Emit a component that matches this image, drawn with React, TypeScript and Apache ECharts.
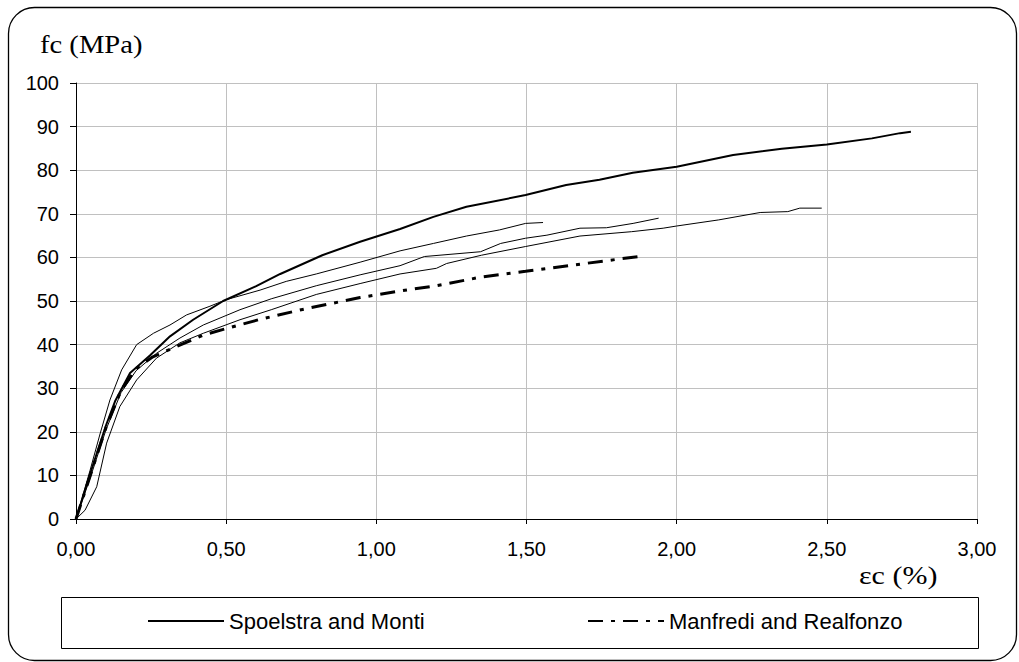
import React, { useEffect, useRef } from "react";
import * as echarts from "echarts";

// strain (%) , stress (MPa)
const spoelstraMonti: number[][] = [
  [0, 0], [0.05, 11], [0.1, 21.5], [0.13, 27], [0.18, 33.5], [0.246, 37.5], [0.313, 41.9],
  [0.39, 45.7], [0.49, 50], [0.6, 53.4], [0.68, 56.2], [0.82, 60.5], [0.946, 63.6],
  [1.079, 66.5], [1.19, 69.3], [1.3, 71.6], [1.497, 74.3], [1.632, 76.6], [1.743, 77.8],
  [1.854, 79.4], [2.0, 80.8], [2.188, 83.5], [2.35, 84.9], [2.5, 85.9], [2.65, 87.3], [2.744, 88.5], [2.78, 88.8],
];

const manfrediRealfonzo: number[][] = [
  [0, 0], [0.05, 10.5], [0.1, 21], [0.15, 29.5], [0.2, 34.5], [0.256, 37.2], [0.313, 38.9],
  [0.424, 42.2], [0.496, 43.6], [0.613, 45.8], [0.75, 48], [0.946, 50.8], [1.079, 52.3],
  [1.2, 53.5], [1.35, 55.5], [1.497, 56.8], [1.65, 58.2], [1.884, 60.3],
];

const experiment1: number[][] = [
  [0, 0], [0.047, 11.2], [0.08, 19.5], [0.113, 27.3], [0.152, 34.2], [0.202, 40], [0.258, 42.6],
  [0.313, 44.5], [0.368, 46.8], [0.446, 48.8], [0.5, 50.3], [0.613, 52.5], [0.7, 54.5],
  [0.8, 56.2], [0.946, 58.9], [1.079, 61.5], [1.19, 63.2], [1.3, 64.9], [1.41, 66.3],
  [1.497, 67.8], [1.555, 68],
];

const experiment2: number[][] = [
  [0, 0], [0.05, 10], [0.1, 20.5], [0.15, 29], [0.2, 34], [0.268, 38], [0.346, 41.5],
  [0.424, 44.5], [0.546, 48], [0.65, 50.5], [0.8, 53.5], [0.946, 56], [1.079, 58.1],
  [1.16, 60.2], [1.347, 61.3], [1.414, 63.2], [1.497, 64.4], [1.568, 65.1], [1.678, 66.7],
  [1.766, 66.8], [1.855, 67.8], [1.94, 69],
];

const experiment3: number[][] = [
  [0, 0], [0.03, 2], [0.069, 7.4], [0.102, 17.4], [0.146, 25.8], [0.202, 31.9], [0.268, 36.9],
  [0.346, 40.4], [0.424, 42.6], [0.546, 45.7], [0.65, 48], [0.8, 51.5], [0.946, 54],
  [1.079, 56.2], [1.2, 57.5], [1.234, 58.6], [1.35, 60.5], [1.497, 62.5], [1.678, 64.9],
  [1.85, 65.9], [1.955, 66.7], [2.0, 67.2], [2.14, 68.6], [2.278, 70.3], [2.37, 70.5],
  [2.41, 71.3], [2.483, 71.3],
];

const legendNames = ["Spoelstra and Monti", "Manfredi and Realfonzo"];
const yTitle = "fc (MPa)";
const xTitle = "εc (%)";

export default function App() {
  const ref = useRef<HTMLDivElement>(null);
  useEffect(() => {
    if (!ref.current) return;
    const chart = echarts.init(ref.current, null, { renderer: "svg" });
    const thin = (data: number[][]) => ({
      type: "line",
      data,
      showSymbol: false,
      symbol: "none",
      lineStyle: { color: "#000", width: 1 },
      silent: true,
      z: 2,
    });
    const legendText = {
      fontFamily: "Liberation Sans, Arial, sans-serif",
      fontSize: 22,
      color: "#000",
    };
    chart.setOption({
      animation: false,
      backgroundColor: "#fff",
      grid: { left: 76, right: 42, top: 83, bottom: 143 },
      xAxis: {
        type: "value",
        min: 0,
        max: 3,
        interval: 0.5,
        axisLine: { show: true, onZero: false, lineStyle: { color: "#000", width: 1 } },
        axisTick: { show: true, length: 5, lineStyle: { color: "#000" } },
        axisLabel: {
          margin: 20,
          fontFamily: "Liberation Sans, Arial, sans-serif",
          fontSize: 20,
          color: "#000",
          formatter: (v: number) => v.toFixed(2).replace(".", ","),
        },
        splitLine: { show: true, lineStyle: { color: "#c0c0c0", width: 1 } },
      },
      yAxis: {
        type: "value",
        min: 0,
        max: 100,
        interval: 10,
        axisLine: { show: true, lineStyle: { color: "#000", width: 1 } },
        axisTick: { show: true, length: 6, lineStyle: { color: "#000" } },
        axisLabel: {
          margin: 17,
          fontFamily: "Liberation Sans, Arial, sans-serif",
          fontSize: 20,
          color: "#000",
        },
        splitLine: { show: true, lineStyle: { color: "#c0c0c0", width: 1 } },
      },
      legend: [
        {
          data: [legendNames[0]],
          left: 147,
          top: 610,
          padding: 0,
          itemWidth: 76,
          itemHeight: 22,
          itemStyle: { opacity: 0 },
          textStyle: legendText,
          selectedMode: false,
        },
        {
          data: [legendNames[1]],
          left: 587,
          top: 610,
          padding: 0,
          itemWidth: 76,
          itemHeight: 22,
          itemStyle: { opacity: 0 },
          textStyle: legendText,
          selectedMode: false,
        },
      ],
      series: [
        thin(experiment1),
        thin(experiment2),
        thin(experiment3),
        {
          name: legendNames[0],
          type: "line",
          data: spoelstraMonti,
          showSymbol: false,
          symbol: "none",
          lineStyle: { color: "#000", width: 2 },
          itemStyle: { color: "#000" },
          z: 3,
        },
        {
          name: legendNames[1],
          type: "line",
          data: manfrediRealfonzo,
          showSymbol: false,
          symbol: "none",
          lineStyle: { color: "#000", width: 3, type: [15, 8, 4, 8] },
          itemStyle: { color: "#000" },
          z: 3,
        },
      ],
      graphic: [
        {
          type: "rect",
          shape: { x: 8.5, y: 7.5, width: 1008, height: 653, r: 26 },
          style: { fill: "none", stroke: "#000", lineWidth: 1.3 },
          silent: true,
          z: -1,
        },
        {
          type: "rect",
          shape: { x: 61.5, y: 597.5, width: 917, height: 51 },
          style: { fill: "none", stroke: "#000", lineWidth: 1 },
          silent: true,
          z: -1,
        },
        {
          type: "text",
          x: 40,
          y: 44,
          scaleX: 1.1,
          style: {
            x: 0,
            y: 0,
            text: yTitle,
            font: "26px 'Liberation Serif', 'Times New Roman', serif",
            fill: "#000",
            verticalAlign: "middle",
          },
          silent: true,
        },
        {
          type: "text",
          x: 859,
          y: 575,
          scaleX: 1.2,
          style: {
            x: 0,
            y: 0,
            text: xTitle,
            font: "25px 'Liberation Serif', 'Times New Roman', serif",
            fill: "#000",
            verticalAlign: "middle",
          },
          silent: true,
        },
      ],
    });
    return () => chart.dispose();
  }, []);
  return (
    <div
      ref={ref}
      style={{ position: "absolute", left: 0, top: 0, width: 1019, height: 662, background: "#fff" }}
    />
  );
}
